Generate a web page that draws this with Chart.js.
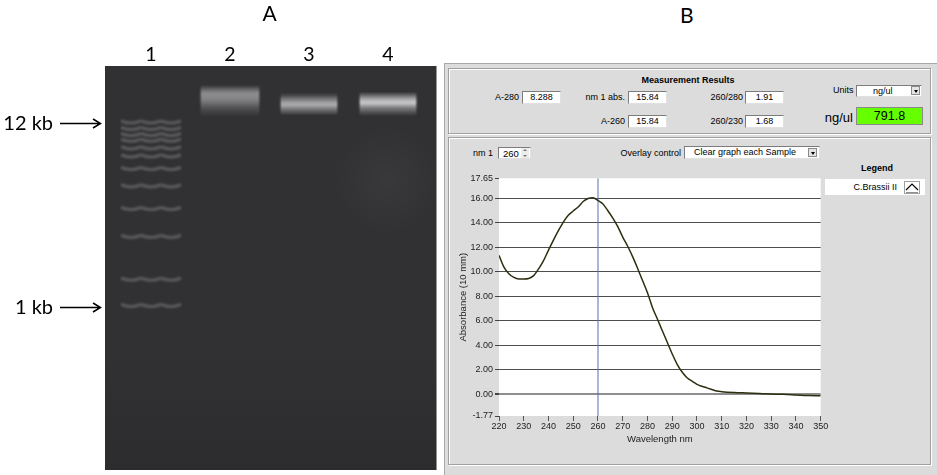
<!DOCTYPE html>
<html>
<head>
<meta charset="utf-8">
<script src="https://cdn.jsdelivr.net/npm/chart.js@4.4.0/dist/chart.umd.min.js"></script>
<style>
  html, body { margin: 0; padding: 0; background: #fff; }
  #page { position: relative; width: 937px; height: 475px; overflow: hidden; font-family: "Liberation Sans", Arial, sans-serif; }
  #gel { position: absolute; left: 0; top: 0; }
  #spec { position: absolute; left: 450px; top: 170px; }
  .big { position: absolute; font-family: Lato, sans-serif; font-size: 21px; line-height: 25px; color: #000; }
  #panel { position: absolute; left: 444px; top: 63px; width: 493px; height: 412px; background: #dcdcdc;
           border-left: 1px solid #a8a8a8; border-top: 1px solid #a8a8a8; box-sizing: border-box; }
  .grp { position: absolute; border: 1px solid #a0a0a0; box-shadow: inset 1px 1px 0 #fff, 1px 1px 0 #fff; box-sizing: border-box; }
  .t { position: absolute; font-size: 9px; line-height: 12px; color: #000; white-space: nowrap; }
  .r { text-align: right; }
  .c { text-align: center; }
  .b { font-weight: bold; }
  .box { position: absolute; background: #fff; box-sizing: border-box; border: 1px solid #7c7c7c;
         border-right-color: #e0e0e0; border-bottom-color: #e0e0e0; font-size: 9px; line-height: 11px; text-align: center; white-space: nowrap; }
  .btn { position: absolute; width: 9px; height: 9px; background: #e4e4e4; border: 1px solid #8a8a8a; box-sizing: border-box; }
  .btn::after { content: ""; position: absolute; left: 1.5px; top: 2.5px; border-left: 2.5px solid transparent; border-right: 2.5px solid transparent; border-top: 3px solid #000; }
  .spin { position: absolute; left: 521px; width: 8px; height: 5px; background: #ececec; }
  .spin::after { content: ""; position: absolute; left: 2px; border-left: 2px solid transparent; border-right: 2px solid transparent; }
  .up::after { top: 1px; border-bottom: 2px solid #777; }
  .dn::after { top: 1.5px; border-top: 2px solid #777; }
</style>
</head>
<body>
<div id="page">
  <canvas id="gel" width="440" height="475"></canvas>
  <div class="big" style="left:680px; top:2px;">B</div>

  <div id="panel"></div>
  <div class="grp" style="left:448px; top:68px; width:483px; height:66px;"></div>
  <div class="grp" style="left:448px; top:137px; width:483px; height:328px;"></div>

  <div class="t b c" style="left:588px; top:74px; width:200px;">Measurement Results</div>
  <div class="t r" style="left:459px; top:91px; width:60px;">A-280</div>
  <div class="box" style="left:522px; top:91px; width:39px; height:13px;" id="v280"></div>
  <div class="t r" style="left:565px; top:91px; width:60px;">nm 1 abs.</div>
  <div class="box" style="left:628px; top:91px; width:39px; height:13px;" id="vnm1"></div>
  <div class="t r" style="left:683px; top:91px; width:60px;">260/280</div>
  <div class="box" style="left:745px; top:91px; width:39px; height:13px;" id="vr280"></div>
  <div class="t r" style="left:565px; top:115px; width:60px;">A-260</div>
  <div class="box" style="left:628px; top:115px; width:39px; height:13px;" id="v260"></div>
  <div class="t r" style="left:683px; top:115px; width:60px;">260/230</div>
  <div class="box" style="left:745px; top:115px; width:39px; height:13px;" id="vr230"></div>

  <div class="t" style="left:833px; top:84px;">Units</div>
  <div class="box" style="left:856px; top:85px; width:66px; height:12px; text-align:left; padding-left:16px;">ng/ul</div>
  <div class="btn" style="left:911px; top:86px;"></div>
  <div class="t r" style="left:800px; top:110px; width:53px; font-size:13px; line-height:15px;">ng/ul</div>
  <div class="box" id="conc" style="left:856px; top:107px; width:67px; height:18px; background:#66ff00; font-size:12.5px; line-height:16px; border-color:#8a8a8a;"></div>

  <div class="t" style="left:473px; top:147px;">nm 1</div>
  <div class="box" style="left:498px; top:147px; width:33px; height:12px; text-align:left; padding-left:4px; font-size:9.5px;" id="vnmsel"></div>
  <div class="spin up" style="top:148px;"></div>
  <div class="spin dn" style="top:153px;"></div>
  <div class="t r" style="left:591px; top:147px; width:90px;">Overlay control</div>
  <div class="box" style="left:684px; top:146px; width:136px; height:13px; text-align:left; padding-left:9px;">Clear graph each Sample</div>
  <div class="btn" style="left:808px; top:148px;"></div>

  <div class="t b c" style="left:837px; top:162px; width:80px;">Legend</div>
  <div class="box" style="left:825px; top:179px; width:100px; height:16px; border:none; text-align:right; padding-right:28px; line-height:16px;" id="legname"></div>
  <svg style="position:absolute; left:904px; top:181px;" width="16" height="13">
    <rect x="0.5" y="0.5" width="15" height="12" fill="#fff" stroke="#a0a0a0"/>
    <polyline points="2,9 8,3 14,9" fill="none" stroke="#000" stroke-width="1.2"/>
    <line x1="2" y1="11.5" x2="14" y2="11.5" stroke="#909090"/>
  </svg>

  <canvas id="spec" width="380" height="290"></canvas>
</div>

<script>
// ---- gel (panel A) ----
const laneNames = ['1', '2', '3', '4'];
// migration from the wells, in % of gel length
const ladderMigration = [14.2, 15.8, 17.3, 18.7, 20.6, 22.6, 25.7, 30.0, 35.6, 42.5, 53.1, 59.6];
const markerLabels = ['12 kb', '1 kb'];
const markerBands = [0, 11];
const sampleLanes = [2, 3, 4];
const sampleMigration = [8.7, 9.5, 9.4];

// ---- NanoDrop spectrum (panel B) ----
const sampleName = 'C.Brassii II';
const wavelengths = [220, 222, 224, 226, 228, 230, 232, 234, 236, 238, 240, 242, 244, 246, 248, 250,
  252, 254, 256, 258, 260, 262, 264, 266, 268, 270, 272, 274, 276, 278, 280, 282, 284, 286, 288, 290,
  292, 294, 296, 298, 300, 302, 304, 306, 308, 310, 315, 320, 325, 330, 335, 340, 345, 350];
const absorbance = [11.35, 10.4, 9.85, 9.55, 9.43, 9.43, 9.47, 9.7, 10.25, 10.93, 11.78, 12.6, 13.37, 14.07, 14.63, 14.98,
  15.3, 15.75, 16.0, 16.06, 15.84, 15.55, 15.0, 14.4, 13.7, 12.85, 12.1, 11.25, 10.3, 9.3, 8.29, 7.1, 6.15, 5.2, 4.25, 3.3,
  2.45, 1.82, 1.35, 1.08, 0.82, 0.66, 0.53, 0.4, 0.27, 0.22, 0.15, 0.11, 0.07, 0.03, 0.0, -0.05, -0.1, -0.11];
const yTickValues = [-1.77, 0, 2, 4, 6, 8, 10, 12, 14, 16, 17.65];
const nm1 = 260;
const resultLabels = ['v280', 'vnm1', 'v260', 'vr280', 'vr230', 'conc'];
const resultValues = ['8.288', '15.84', '15.84', '1.91', '1.68', '791.8'];

resultLabels.forEach((id, i) => { document.getElementById(id).textContent = resultValues[i]; });
document.getElementById('vnmsel').textContent = String(nm1);
document.getElementById('legname').textContent = sampleName;

Chart.defaults.font.family = '"Liberation Sans", Arial, sans-serif';

// band sprites
function sprite(w, h, paint) {
  const c = document.createElement('canvas');
  c.width = w; c.height = h;
  paint(c.getContext('2d'), w, h);
  return c;
}
function fadeSides(ctx, w, h) {
  ctx.globalCompositeOperation = 'destination-in';
  const g = ctx.createLinearGradient(0, 0, w, 0);
  g.addColorStop(0, 'rgba(0,0,0,0)');
  g.addColorStop(0.08, 'rgba(0,0,0,1)');
  g.addColorStop(0.92, 'rgba(0,0,0,1)');
  g.addColorStop(1, 'rgba(0,0,0,0)');
  ctx.fillStyle = g;
  ctx.fillRect(0, 0, w, h);
  ctx.globalCompositeOperation = 'source-over';
}
function smear(stops, rgb) {
  return (ctx, w, h) => {
    ctx.filter = 'blur(1.2px)';
    const g = ctx.createLinearGradient(0, 0, 0, h);
    stops.forEach(s => g.addColorStop(s[0], 'rgba(' + rgb + ',' + s[1] + ')'));
    ctx.fillStyle = g;
    ctx.fillRect(3, 0, w - 6, h);
    ctx.filter = 'none';
    fadeSides(ctx, w, h);
  };
}
const ladderImg = sprite(68, 12, (ctx) => {
  ctx.filter = 'blur(1.1px)';
  ctx.strokeStyle = 'rgba(150,150,154,0.42)';
  ctx.lineWidth = 3.2;
  ctx.beginPath();
  for (let i = 0; i < 3; i++) {
    const x0 = 4 + i * 20;
    ctx.moveTo(x0, 3.5);
    ctx.quadraticCurveTo(x0 + 10, 8, x0 + 20, 3.5);
  }
  ctx.stroke();
});
const sampleImgs = [
  sprite(66, 32, smear([[0, 0], [0.12, 0.32], [0.25, 0.62], [0.45, 0.55], [0.7, 0.22], [1, 0]], '200,200,204')),
  sprite(64, 22, smear([[0, 0], [0.3, 0.5], [0.5, 0.8], [0.7, 0.45], [1, 0]], '212,212,215')),
  sprite(64, 24, smear([[0, 0], [0.28, 0.65], [0.45, 0.9], [0.65, 0.45], [1, 0]], '222,222,225'))
];

const gelPlugin = {
  id: 'gel',
  beforeDraw(chart) {
    const { ctx, chartArea: a } = chart;
    const left = a.left - 6.5, right = a.right + 9;
    ctx.save();
    ctx.fillStyle = '#313133';
    ctx.fillRect(left, a.top, right - left, a.bottom - a.top);
    const cx = a.left + 0.87 * (a.right - a.left), cy = a.top + 114;
    const glow = ctx.createRadialGradient(cx, cy, 4, cx, cy, 55);
    glow.addColorStop(0, 'rgba(255,255,255,0.035)');
    glow.addColorStop(1, 'rgba(255,255,255,0)');
    ctx.fillStyle = glow;
    ctx.fillRect(left, a.top, right - left, 250);
    const fade = ctx.createLinearGradient(0, a.bottom - 120, 0, a.bottom);
    fade.addColorStop(0, 'rgba(0,0,0,0)');
    fade.addColorStop(1, 'rgba(0,0,0,0.1)');
    ctx.fillStyle = fade;
    ctx.fillRect(left, a.bottom - 120, right - left, 120);
    ctx.restore();
  },
  afterDraw(chart) {
    const { ctx } = chart;
    const y = chart.scales.y;
    ctx.save();
    ctx.fillStyle = '#000';
    ctx.strokeStyle = '#000';
    ctx.lineWidth = 1.5;
    ctx.font = '20px Lato';
    ctx.textAlign = 'right';
    ctx.textBaseline = 'middle';
    markerBands.forEach((b, i) => {
      const py = Math.round(y.getPixelForValue(ladderMigration[b])) + 0.5;
      ctx.fillText(markerLabels[i], 53, py);
      ctx.beginPath();
      ctx.moveTo(60, py); ctx.lineTo(100, py);
      ctx.moveTo(93, py - 4.5); ctx.lineTo(100.5, py); ctx.lineTo(93, py + 4.5);
      ctx.stroke();
    });
    ctx.restore();
  }
};

new Chart(document.getElementById('gel'), {
  type: 'scatter',
  data: {
    datasets: [
      { label: 'Ladder', data: ladderMigration.map(d => ({ x: 1, y: d })), pointStyle: ladderImg },
      { label: 'Samples', data: sampleLanes.map((l, i) => ({ x: l, y: sampleMigration[i] })), pointStyle: sampleImgs }
    ]
  },
  options: {
    responsive: false,
    animation: false,
    events: [],
    layout: { padding: { left: 111.5, right: 12.5, top: 0, bottom: 5 } },
    plugins: {
      legend: { display: false },
      tooltip: { enabled: false },
      title: { display: true, text: 'A', color: '#000', font: { family: 'Lato', size: 21, weight: 'normal', lineHeight: 1.2 }, padding: { top: 2, bottom: 0 } }
    },
    scales: {
      x: {
        type: 'linear', position: 'top', min: 0.5, max: 4.5,
        afterBuildTicks: s => { s.ticks = laneNames.map((n, i) => ({ value: i + 1 })); },
        ticks: { callback: v => laneNames[v - 1], color: '#000', padding: 0, font: { family: 'Lato', size: 19.5 } },
        grid: { display: false, drawTicks: false },
        border: { display: false },
        afterFit: s => { s.height = 66 - 27.2; }
      },
      y: { display: false, reverse: true, min: 0, max: 100 }
    }
  },
  plugins: [gelPlugin]
});

// ---- spectrum ----
const plotBg = {
  id: 'plotBg',
  beforeDraw(chart) {
    const { ctx, chartArea: a } = chart;
    ctx.save();
    ctx.fillStyle = '#fff';
    ctx.fillRect(a.left, a.top, a.right - a.left, a.bottom - a.top);
    ctx.restore();
  }
};
const yMin = yTickValues[0], yMax = yTickValues[yTickValues.length - 1];

new Chart(document.getElementById('spec'), {
  type: 'line',
  data: {
    datasets: [
      {
        label: sampleName,
        data: wavelengths.map((w, i) => ({ x: w, y: absorbance[i] })),
        borderColor: '#2e2e10', borderWidth: 1.5, pointRadius: 0, tension: 0.35, cubicInterpolationMode: 'monotone'
      },
      {
        label: 'nm 1',
        data: [{ x: nm1, y: yMin }, { x: nm1, y: yMax }],
        borderColor: '#5a6eb0', borderWidth: 1, pointRadius: 0
      }
    ]
  },
  options: {
    responsive: false,
    animation: false,
    events: [],
    layout: { padding: { top: 8.3, right: 9.3, left: 0, bottom: 0 } },
    plugins: { legend: { display: false }, tooltip: { enabled: false } },
    scales: {
      x: {
        type: 'linear', min: 220, max: 350,
        ticks: { stepSize: 10, color: '#222', padding: 0, maxRotation: 0, autoSkip: false, font: { size: 9 } },
        grid: { drawOnChartArea: false, drawTicks: true, tickLength: 5, tickColor: '#555' },
        border: { display: false },
        title: { display: true, text: 'Wavelength nm', color: '#222', font: { size: 9.5 }, padding: { top: 0, bottom: 15 } },
        afterFit: s => { s.height = 44; }
      },
      y: {
        min: yMin, max: yMax,
        afterBuildTicks: s => { s.ticks = yTickValues.map(v => ({ value: v })); },
        ticks: { callback: v => v.toFixed(2), color: '#222', padding: 2, font: { size: 9 } },
        grid: {
          color: c => (c.tick.value === yMin || c.tick.value === yMax) ? 'rgba(0,0,0,0)' : (c.tick.value === 0 ? '#8e8e8e' : '#4e4e4e'),
          lineWidth: c => c.tick.value === 0 ? 2 : 1,
          tickColor: '#444', tickLength: 4
        },
        border: { display: false },
        title: { display: true, text: 'Absorbance (10 mm)', color: '#222', font: { size: 9.5 }, padding: { top: 7.5, bottom: 0 } },
        afterFit: s => { s.width = 49; }
      }
    }
  },
  plugins: [plotBg]
});
</script>
</body>
</html>
